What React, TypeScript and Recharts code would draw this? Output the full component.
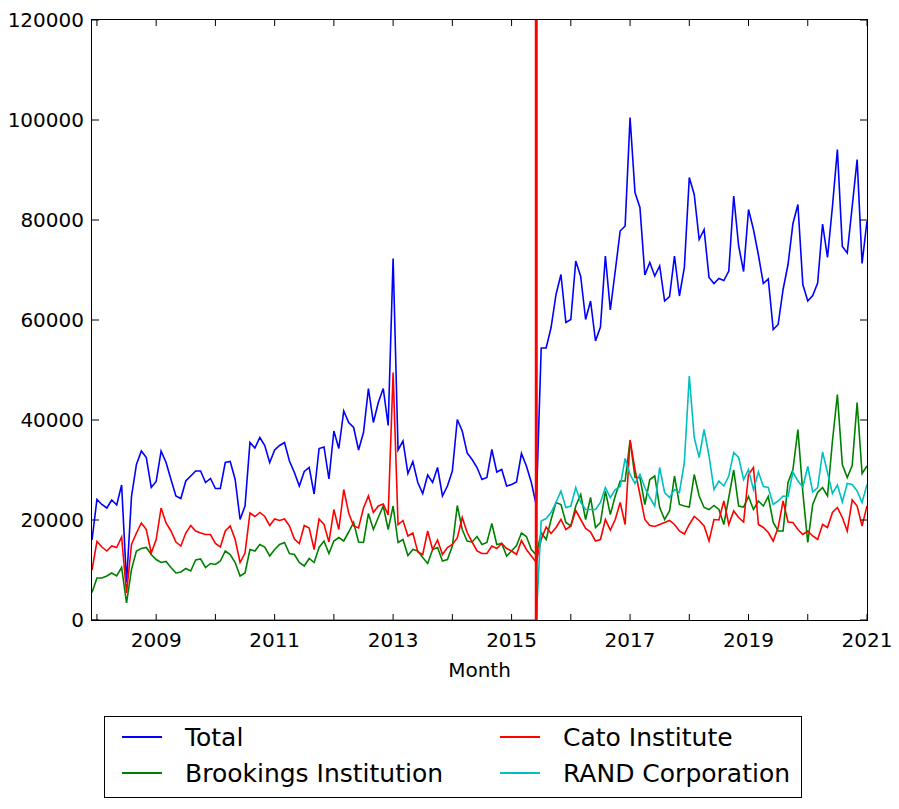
import { LineChart, Line, XAxis, YAxis, ReferenceLine } from 'recharts'

// month index 0 = Dec 2007, 157 = Jan 2021
const years = [2008, 2009, 2010, 2011, 2012, 2013, 2014, 2015, 2016, 2017, 2018, 2019, 2020, 2021]
const yTicks = [0, 20000, 40000, 60000, 80000, 100000, 120000]
const policyMonth = 90 // Jun 2015

const total = [
  16000, 24100, 23100, 22400, 24000, 23000, 27000, 7500, 24700, 31100,
  33800, 32500, 26500, 27700, 33800, 31500, 28100, 24800, 24300, 27800,
  28800, 29800, 29800, 27500, 28300, 26300, 26300, 31500, 31700, 28100,
  20100, 22800, 35500, 34400, 36500, 34900, 31500, 34000, 34900, 35500,
  31800, 29500, 26800, 29700, 30500, 25200, 34300, 34600, 28200, 37800,
  34300, 41800, 39500, 38500, 34000, 37500, 46300, 39500, 43500, 46300,
  38900, 72300, 34000, 35800, 29300, 31700, 27500, 25300, 29000, 27500,
  30500, 24800, 26800, 29800, 40100, 37800, 33400, 32100, 30500, 28100,
  28500, 34100, 29600, 30100, 26800, 27100, 27600, 33300, 30800, 27500,
  23000, 54400, 54400, 58500, 65100, 69100, 59500, 60100, 71800, 68700,
  60100, 63800, 55800, 58600, 72800, 62000, 69800, 77800, 78800, 100500,
  85500, 82500, 69000, 71500, 68800, 70800, 63800, 64700, 72800, 64800,
  70500, 88500, 85100, 76100, 78100, 68500, 67300, 68300, 67900, 69800,
  84800, 74800, 69700, 82100, 78100, 73000, 67300, 68200, 58100, 59100,
  66100, 71100, 79300, 83100, 67100, 63800, 64900, 67400, 79200, 72500,
  82700, 94100, 74700, 73400, 82700, 92100, 71300, 79800,
]

const brookings = [
  5500, 8400, 8400, 8800, 9400, 8800, 10500, 3400, 10100, 13800,
  14300, 14500, 13100, 12100, 11500, 11700, 10500, 9400, 9600, 10300,
  9800, 12000, 12200, 10500, 11300, 11100, 11800, 13800, 13100, 11500,
  8800, 9400, 14100, 13800, 15100, 14600, 12800, 14100, 15100, 15500,
  13300, 13100, 11500, 10800, 12300, 11500, 14500, 15800, 13300, 15800,
  16500, 15800, 17600, 19500, 15600, 15500, 21300, 18100, 20500, 22800,
  18100, 22800, 15500, 16100, 12900, 14100, 13800, 12500, 11300, 14100,
  14500, 11800, 12100, 14800, 22900, 18100, 15800, 15600, 16700, 15100,
  15500, 19300, 15100, 15300, 12800, 13800, 14900, 17400, 16700, 14100,
  13000, 17500, 16100, 20100, 23500, 23100, 19500, 18800, 22800, 25100,
  20100, 24500, 18500, 19500, 25800, 21100, 24800, 27800, 27800, 35900,
  28500, 28500, 23100, 28100, 28800, 22500, 20100, 21800, 28800, 23100,
  22800, 22600, 29100, 24800, 22500, 22100, 22900, 22100, 19100, 24500,
  30000, 22800, 22600, 24700, 22100, 23800, 22800, 24700, 19500, 17800,
  17800, 27500, 30100, 38100, 25500, 15500, 23100, 25500, 26500, 24800,
  35800, 45100, 31100, 28500, 30900, 43500, 29300, 30800,
]

const cato = [
  10000, 15700, 14600, 13800, 14800, 14500, 16600, 5400, 15100, 17400,
  19400, 18100, 13400, 16100, 22400, 19400, 17800, 15600, 14800, 17400,
  18900, 17800, 17400, 17100, 17100, 15300, 14600, 17800, 18800, 16100,
  11500, 13400, 21400, 20700, 21500, 20700, 18900, 20200, 19900, 20200,
  18800, 16200, 15300, 18900, 18400, 14100, 20200, 19100, 15600, 22100,
  18100, 26100, 21400, 18800, 18400, 22400, 24800, 21500, 22800, 23200,
  21000, 49500, 19100, 19900, 16800, 17400, 13600, 13100, 17800, 14100,
  16000, 13100, 14500, 15100, 16400, 20500, 17500, 15600, 13800, 13300,
  13300, 14800, 14300, 15300, 14300, 13800, 13100, 15900, 14100, 12800,
  11500, 16100, 18600, 17300, 18500, 20100, 18100, 18800, 21900, 20100,
  18300, 17600, 15800, 16100, 20100, 18000, 20100, 23500, 19100, 36000,
  30100, 25100, 20100, 18900, 18700, 19100, 19500, 19900, 19100, 17800,
  17200, 19100, 20700, 19900, 18800, 15800, 20100, 20000, 23800, 19100,
  21800, 20500, 19600, 29100, 30500, 19100, 18500, 17500, 15800, 18500,
  23800, 19600, 19500, 18100, 17100, 17800, 16800, 16100, 19100, 18500,
  21500, 22500, 20500, 17800, 24000, 22800, 18800, 22800,
]

const rand = [
  0, 0, 0, 0, 0, 0, 0, 0, 0, 0,
  0, 0, 0, 0, 0, 0, 0, 0, 0, 0,
  0, 0, 0, 0, 0, 0, 0, 0, 0, 0,
  0, 0, 0, 0, 0, 0, 0, 0, 0, 0,
  0, 0, 0, 0, 0, 0, 0, 0, 0, 0,
  0, 0, 0, 0, 0, 0, 0, 0, 0, 0,
  0, 0, 0, 0, 0, 0, 0, 0, 0, 0,
  0, 0, 0, 0, 0, 0, 0, 0, 0, 0,
  0, 0, 0, 0, 0, 0, 0, 0, 0, 0,
  0, 19800, 20300, 21500, 23500, 25800, 22500, 22800, 26500, 23500,
  22100, 22100, 22100, 23500, 26500, 24500, 26100, 26700, 32300, 29100,
  27300, 29100, 26500, 24500, 22800, 30500, 25500, 24500, 26100, 25500,
  31500, 48800, 36500, 32500, 38100, 32800, 26100, 27800, 26800, 28800,
  33500, 32500, 28100, 30100, 26100, 29600, 26700, 26500, 23100, 23800,
  24800, 24700, 29600, 27800, 26600, 30700, 25600, 26500, 33600, 29500,
  25300, 27000, 23600, 27300, 27100, 25800, 23500, 27100,
]

const data = total.map((t, i) => ({
  i,
  total: t,
  brookings: brookings[i],
  cato: cato[i],
  rand: rand[i],
}))

const yearTickIdx = years.map((y) => 1 + 12 * (y - 2008))

const PL = 92
const PR = 867
const PT = 20
const PB = 620
const FONT = '"DejaVu Sans", sans-serif'

function XTick({ x, payload }: any) {
  const year = 2008 + (payload.value - 1) / 12
  return (
    <g>
      <line x1={x} x2={x} y1={PB} y2={PB - 6} stroke="#000" />
      <line x1={x} x2={x} y1={PT} y2={PT + 6} stroke="#000" />
      {year % 2 === 1 && (
        <text x={x} y={PB + 27} textAnchor="middle" fontSize={20} fontFamily={FONT} fill="#000">
          {year}
        </text>
      )}
    </g>
  )
}

function YTick({ y, payload }: any) {
  return (
    <g>
      <line x1={PL} x2={PL + 7} y1={y} y2={y} stroke="#000" />
      <line x1={PR} x2={PR - 7} y1={y} y2={y} stroke="#000" />
      <text x={PL - 8} y={y + 7} textAnchor="end" fontSize={20} fontFamily={FONT} fill="#000">
        {payload.value}
      </text>
    </g>
  )
}

const legendItems = [
  { name: 'Total', color: '#0000ff', left: 0, top: 0 },
  { name: 'Brookings Institution', color: '#008000', left: 0, top: 36 },
  { name: 'Cato Institute', color: '#ff0000', left: 378, top: 0 },
  { name: 'RAND Corporation', color: '#00bfbf', left: 378, top: 36 },
]

export default function App() {
  return (
    <div style={{ position: 'absolute', left: 0, top: 0, width: 899, height: 809, background: '#fff' }}>
      <LineChart width={899} height={700} data={data} margin={{ top: PT, right: 899 - PR, bottom: 20, left: 0 }}>
        <XAxis
          type="number"
          dataKey="i"
          domain={[0, 157]}
          ticks={yearTickIdx}
          tick={<XTick />}
          axisLine={false}
          tickLine={false}
          height={60}
          interval={0}
          label={{ value: 'Month', position: 'insideBottom', offset: 3, fontSize: 20, fill: '#000', fontFamily: FONT }}
        />
        <YAxis
          type="number"
          domain={[0, 120000]}
          ticks={yTicks}
          tick={<YTick />}
          axisLine={false}
          tickLine={false}
          width={PL}
          interval={0}
        />
        <Line type="linear" dataKey="total" stroke="#0000ff" strokeWidth={1.6} dot={false} isAnimationActive={false} />
        <Line type="linear" dataKey="brookings" stroke="#008000" strokeWidth={1.6} dot={false} isAnimationActive={false} />
        <Line type="linear" dataKey="cato" stroke="#ff0000" strokeWidth={1.6} dot={false} isAnimationActive={false} />
        <Line type="linear" dataKey="rand" stroke="#00bfbf" strokeWidth={1.6} dot={false} isAnimationActive={false} />
        <ReferenceLine x={policyMonth} stroke="#ff0000" strokeWidth={3} />
      </LineChart>
      <div
        style={{
          position: 'absolute',
          left: PL - 1,
          top: PT - 1,
          width: PR - PL + 2,
          height: PB - PT + 2,
          border: '1px solid #000',
          boxSizing: 'border-box',
          pointerEvents: 'none',
        }}
      />
      <div
        style={{
          position: 'absolute',
          left: 104,
          top: 716,
          width: 698,
          height: 82,
          border: '1px solid #000',
          boxSizing: 'border-box',
          fontFamily: FONT,
          fontSize: 25,
          color: '#000',
        }}
      >
        {legendItems.map((it) => (
          <div key={it.name} style={{ position: 'absolute', left: 17 + it.left, top: 5 + it.top, height: 30, display: 'flex', alignItems: 'center' }}>
            <div style={{ width: 40, height: 2, background: it.color }} />
            <span style={{ marginLeft: 23, whiteSpace: 'nowrap' }}>{it.name}</span>
          </div>
        ))}
      </div>
    </div>
  )
}
